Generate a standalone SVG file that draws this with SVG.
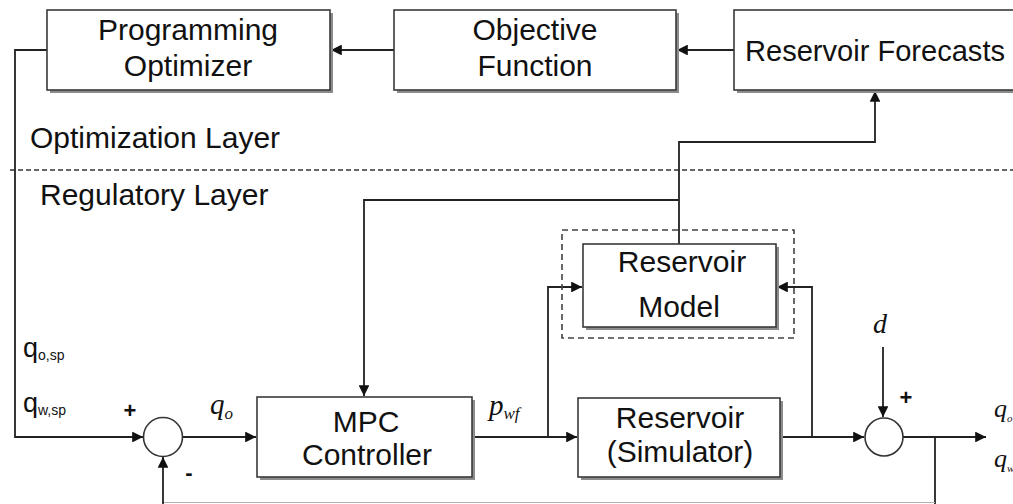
<svg xmlns="http://www.w3.org/2000/svg" width="1013" height="504" viewBox="0 0 1013 504">
  <style>
    .box { fill: #ffffff; stroke: #3a3a3a; stroke-width: 1.6; }
    .sh { fill: #8c8c8c; }
    .lbl { font-family: "Liberation Sans", Arial, sans-serif; font-size: 30px; fill: #111; }
    .mid { text-anchor: middle; }
    .math { font-family: "Liberation Serif", "Times New Roman", serif; font-style: italic; fill: #111; }
    .wire { fill: none; stroke: #222; stroke-width: 1.8; }
    .sum { fill: #ffffff; stroke: #333; stroke-width: 1.6; }
    .sign { font-family: "Liberation Sans", Arial, sans-serif; font-weight: bold; font-size: 22px; fill: #111; text-anchor: middle; }
    .sp { font-family: "Liberation Sans", Arial, sans-serif; fill: #111; }
  </style>
  <defs>
    <marker id="ah" viewBox="0 0 10 10" refX="10" refY="5" markerWidth="6" markerHeight="6" markerUnits="strokeWidth" orient="auto">
      <path d="M0,0 L10,5 L0,10 z" fill="#111"/>
    </marker>
  </defs>

  <rect width="1013" height="504" fill="#ffffff"/>

  <!-- layer separator -->
  <line x1="10" y1="170" x2="1013" y2="170" stroke="#333" stroke-width="1.6" stroke-dasharray="5,3"/>
  <text class="lbl" x="30" y="148">Optimization Layer</text>
  <text class="lbl" x="40" y="205">Regulatory Layer</text>

  <!-- connectors -->
  <g id="connectors">
    <line class="wire" x1="734" y1="50" x2="677" y2="50" marker-end="url(#ah)"/>
    <line class="wire" x1="394" y1="50" x2="331" y2="50" marker-end="url(#ah)"/>
    <polyline class="wire" points="47,50 15,50 15,437 143,437" marker-end="url(#ah)"/>
    <line class="wire" x1="183" y1="437" x2="256" y2="437" marker-end="url(#ah)"/>
    <line class="wire" x1="472" y1="437" x2="577" y2="437" marker-end="url(#ah)"/>
    <polyline class="wire" points="548,437 548,287 582,287" marker-end="url(#ah)"/>
    <line class="wire" x1="780" y1="437" x2="864" y2="437" marker-end="url(#ah)"/>
    <polyline class="wire" points="812,437 812,287 777,287" marker-end="url(#ah)"/>
    <polyline class="wire" points="679,244 679,142 875,142 875,91" marker-end="url(#ah)"/>
    <polyline class="wire" points="679,200 364,200 364,396" marker-end="url(#ah)"/>
    <line class="wire" x1="883" y1="347" x2="883" y2="417" marker-end="url(#ah)"/>
    <line class="wire" x1="903" y1="437" x2="986" y2="437" marker-end="url(#ah)"/>
    <line class="wire" x1="935" y1="437" x2="935" y2="504"/>
    <line x1="163" y1="502.5" x2="935" y2="502.5" stroke="#b0b0b0" stroke-width="1"/>
    <line class="wire" x1="163" y1="504" x2="163" y2="457" marker-end="url(#ah)"/>
  </g>

  <!-- optimization layer blocks -->
  <g id="programming-optimizer">
    <rect class="sh" x="50" y="13" width="283" height="80"/>
    <rect class="box" x="47" y="10" width="283" height="80"/>
    <text class="lbl mid" x="188" y="40">Programming</text>
    <text class="lbl mid" x="188" y="76">Optimizer</text>
  </g>
  <g id="objective-function">
    <rect class="sh" x="397" y="13" width="282" height="80"/>
    <rect class="box" x="394" y="10" width="282" height="80"/>
    <text class="lbl mid" x="535" y="40">Objective</text>
    <text class="lbl mid" x="535" y="76">Function</text>
  </g>
  <g id="reservoir-forecasts">
    <rect class="sh" x="737" y="13" width="300" height="80"/>
    <rect class="box" x="734" y="10" width="300" height="80"/>
    <text class="lbl" x="745" y="61" textLength="260" lengthAdjust="spacingAndGlyphs">Reservoir Forecasts</text>
  </g>

  <!-- regulatory layer blocks -->
  <g id="reservoir-model">
    <rect x="562" y="230" width="232" height="108" fill="none" stroke="#444" stroke-width="1.6" stroke-dasharray="6,4"/>
    <rect class="sh" x="586" y="247" width="193" height="83"/>
    <rect class="box" x="583" y="244" width="193" height="83"/>
    <text class="lbl mid" x="682" y="272">Reservoir</text>
    <text class="lbl mid" x="679" y="317">Model</text>
  </g>
  <g id="mpc-controller">
    <rect class="sh" x="260" y="400" width="215" height="80"/>
    <rect class="box" x="257" y="397" width="215" height="80"/>
    <text class="lbl mid" x="366" y="432">MPC</text>
    <text class="lbl mid" x="367" y="465">Controller</text>
  </g>
  <g id="reservoir-simulator">
    <rect class="sh" x="581" y="401" width="202" height="79"/>
    <rect class="box" x="578" y="398" width="202" height="79"/>
    <text class="lbl mid" x="680" y="428">Reservoir</text>
    <text class="lbl mid" x="680" y="462">(Simulator)</text>
  </g>

  <!-- summing junctions -->
  <g id="sum-setpoint">
    <circle class="sum" cx="163" cy="437" r="19.5"/>
    <text class="sign" x="130" y="418">+</text>
    <text class="sign" x="189" y="480">-</text>
  </g>
  <g id="sum-disturbance">
    <circle class="sum" cx="884" cy="437" r="19"/>
    <text class="sign" x="906" y="405">+</text>
  </g>

  <!-- signal labels -->
  <text class="sp" x="23" y="357" font-size="27">q<tspan font-size="14" dy="3">o,sp</tspan></text>
  <text class="sp" x="23" y="412" font-size="27">q<tspan font-size="14" dy="3">w,sp</tspan></text>
  <text class="math" x="210" y="414" font-size="29">q<tspan font-size="17" dy="5">o</tspan></text>
  <text class="math" x="489" y="415" font-size="29">p<tspan font-size="17" dy="4">wf</tspan></text>
  <text class="math" x="873" y="333" font-size="28">d</text>
  <text class="math" x="994" y="417" font-size="26">q<tspan font-size="11" dy="5">o</tspan></text>
  <text class="math" x="994" y="467" font-size="26">q<tspan font-size="11" dy="5">w</tspan></text>
</svg>
